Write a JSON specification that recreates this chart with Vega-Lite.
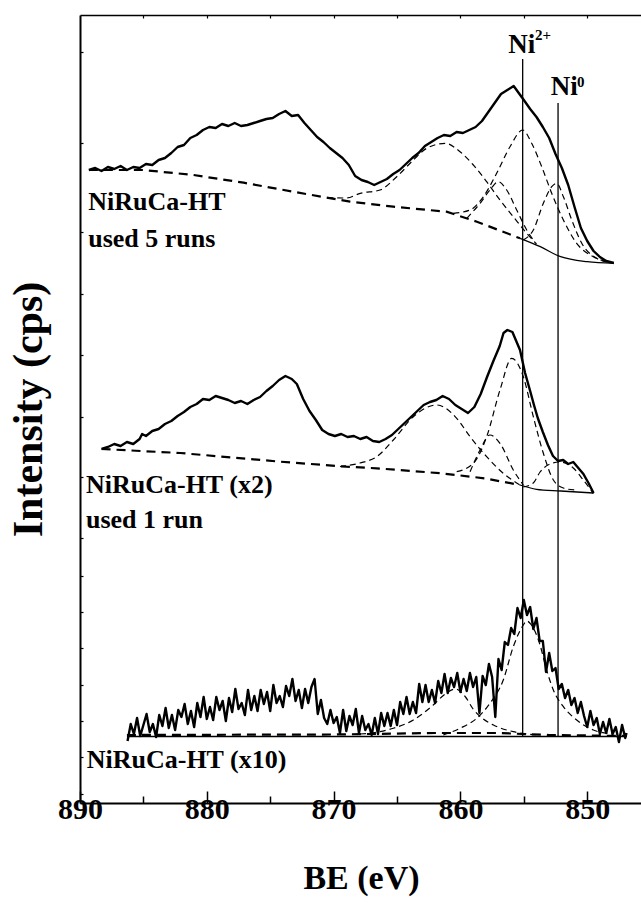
{
"$schema": "https://vega.github.io/schema/vega-lite/v6.json",
"width": 562, "height": 788,
"autosize": {"type": "none"},
"padding": {"left": 80, "top": 15, "right": 0, "bottom": 100},
"background": "white",
"config": {"view": {"stroke": null}, "font": "Liberation Serif"},
"resolve": {"axis": {"x": "independent"}},
"datasets": {
"raw": [
{"s":"a","be":889.3,"i":633},{"s":"a","be":888.8,"i":635},{"s":"a","be":888.3,"i":632},{"s":"a","be":887.8,"i":636},{"s":"a","be":887.3,"i":634},{"s":"a","be":886.8,"i":637},{"s":"a","be":886.3,"i":633},{"s":"a","be":885.8,"i":636},{"s":"a","be":885.3,"i":635},{"s":"a","be":884.8,"i":639},{"s":"a","be":884.3,"i":638},{"s":"a","be":883.8,"i":643},{"s":"a","be":883.3,"i":645},{"s":"a","be":882.8,"i":650},{"s":"a","be":882.3,"i":656},{"s":"a","be":881.8,"i":658},{"s":"a","be":881.3,"i":665},{"s":"a","be":880.8,"i":668},{"s":"a","be":880.3,"i":673},{"s":"a","be":879.8,"i":676},{"s":"a","be":879.3,"i":675},{"s":"a","be":878.8,"i":679},{"s":"a","be":878.3,"i":677},{"s":"a","be":877.8,"i":680},{"s":"a","be":877.3,"i":677},{"s":"a","be":876.8,"i":678},{"s":"a","be":876.3,"i":680},{"s":"a","be":875.8,"i":682},{"s":"a","be":875.3,"i":684},{"s":"a","be":874.8,"i":685},{"s":"a","be":874.3,"i":689},{"s":"a","be":873.8,"i":692},{"s":"a","be":873.3,"i":687},{"s":"a","be":872.8,"i":688},{"s":"a","be":872.3,"i":680},{"s":"a","be":871.8,"i":673},{"s":"a","be":871.3,"i":666},{"s":"a","be":870.8,"i":661},{"s":"a","be":870.3,"i":655},{"s":"a","be":869.8,"i":650},{"s":"a","be":869.3,"i":645},{"s":"a","be":868.8,"i":638},{"s":"a","be":868.3,"i":627},{"s":"a","be":867.8,"i":623},{"s":"a","be":867.3,"i":621},{"s":"a","be":866.8,"i":618},{"s":"a","be":866.3,"i":621},{"s":"a","be":865.8,"i":624},{"s":"a","be":865.3,"i":629},{"s":"a","be":864.8,"i":633},{"s":"a","be":864.3,"i":639},{"s":"a","be":863.8,"i":645},{"s":"a","be":863.3,"i":650},{"s":"a","be":862.8,"i":657},{"s":"a","be":862.3,"i":661},{"s":"a","be":861.8,"i":665},{"s":"a","be":861.3,"i":668},{"s":"a","be":860.8,"i":667},{"s":"a","be":860.3,"i":671},{"s":"a","be":859.8,"i":670},{"s":"a","be":859.3,"i":673},{"s":"a","be":858.8,"i":676},{"s":"a","be":858.3,"i":682},{"s":"a","be":857.8,"i":691},{"s":"a","be":857.3,"i":700},{"s":"a","be":856.8,"i":709},{"s":"a","be":856.3,"i":713},{"s":"a","be":855.8,"i":717},{"s":"a","be":855.4,"i":710},{"s":"a","be":855.0,"i":703},{"s":"a","be":854.5,"i":694},{"s":"a","be":854.0,"i":686},{"s":"a","be":853.5,"i":676},{"s":"a","be":853.0,"i":665},{"s":"a","be":852.5,"i":649},{"s":"a","be":852.0,"i":635},{"s":"a","be":851.5,"i":618},{"s":"a","be":851.0,"i":596},{"s":"a","be":850.5,"i":575},{"s":"a","be":850.0,"i":562},{"s":"a","be":849.5,"i":552},{"s":"a","be":849.0,"i":546},{"s":"a","be":848.5,"i":542},{"s":"a","be":847.9,"i":540},
{"s":"b","be":888.3,"i":354},{"s":"b","be":887.8,"i":356},{"s":"b","be":887.3,"i":359},{"s":"b","be":886.8,"i":357},{"s":"b","be":886.3,"i":361},{"s":"b","be":885.8,"i":359},{"s":"b","be":885.3,"i":364},{"s":"b","be":885.1,"i":369},{"s":"b","be":884.8,"i":367},{"s":"b","be":884.3,"i":372},{"s":"b","be":883.8,"i":374},{"s":"b","be":883.3,"i":379},{"s":"b","be":882.8,"i":382},{"s":"b","be":882.3,"i":387},{"s":"b","be":881.8,"i":391},{"s":"b","be":881.3,"i":396},{"s":"b","be":880.8,"i":399},{"s":"b","be":880.3,"i":404},{"s":"b","be":879.8,"i":403},{"s":"b","be":879.3,"i":407},{"s":"b","be":878.8,"i":405},{"s":"b","be":878.3,"i":403},{"s":"b","be":877.8,"i":400},{"s":"b","be":877.3,"i":402},{"s":"b","be":876.8,"i":399},{"s":"b","be":876.3,"i":403},{"s":"b","be":875.8,"i":406},{"s":"b","be":875.3,"i":412},{"s":"b","be":874.8,"i":417},{"s":"b","be":874.3,"i":423},{"s":"b","be":873.8,"i":427},{"s":"b","be":873.3,"i":424},{"s":"b","be":872.9,"i":419},{"s":"b","be":872.4,"i":404},{"s":"b","be":871.9,"i":392},{"s":"b","be":871.4,"i":383},{"s":"b","be":870.9,"i":373},{"s":"b","be":870.4,"i":369},{"s":"b","be":869.9,"i":367},{"s":"b","be":869.4,"i":369},{"s":"b","be":868.9,"i":366},{"s":"b","be":868.4,"i":367},{"s":"b","be":867.9,"i":364},{"s":"b","be":867.4,"i":366},{"s":"b","be":866.9,"i":362},{"s":"b","be":866.4,"i":361},{"s":"b","be":865.9,"i":364},{"s":"b","be":865.4,"i":368},{"s":"b","be":864.9,"i":374},{"s":"b","be":864.4,"i":380},{"s":"b","be":863.9,"i":386},{"s":"b","be":863.4,"i":392},{"s":"b","be":862.9,"i":398},{"s":"b","be":862.4,"i":401},{"s":"b","be":861.9,"i":403},{"s":"b","be":861.4,"i":407},{"s":"b","be":860.9,"i":404},{"s":"b","be":860.4,"i":398},{"s":"b","be":859.9,"i":394},{"s":"b","be":859.4,"i":390},{"s":"b","be":858.9,"i":396},{"s":"b","be":858.4,"i":409},{"s":"b","be":857.9,"i":426},{"s":"b","be":857.4,"i":442},{"s":"b","be":856.9,"i":457},{"s":"b","be":856.6,"i":470},{"s":"b","be":856.3,"i":473},{"s":"b","be":855.9,"i":471},{"s":"b","be":855.6,"i":462},{"s":"b","be":855.3,"i":453},{"s":"b","be":854.9,"i":430},{"s":"b","be":854.5,"i":412},{"s":"b","be":854.2,"i":398},{"s":"b","be":853.9,"i":385},{"s":"b","be":853.5,"i":371},{"s":"b","be":853.1,"i":358},{"s":"b","be":852.7,"i":347},{"s":"b","be":852.3,"i":342},{"s":"b","be":851.9,"i":343},{"s":"b","be":851.5,"i":339},{"s":"b","be":851.1,"i":341},{"s":"b","be":850.7,"i":335},{"s":"b","be":850.3,"i":329},{"s":"b","be":849.9,"i":320},{"s":"b","be":849.5,"i":310},
{"s":"c","be":886.25,"i":62},{"s":"c","be":886.0,"i":79},{"s":"c","be":885.75,"i":69},{"s":"c","be":885.5,"i":85},{"s":"c","be":885.25,"i":67},{"s":"c","be":885.0,"i":78},{"s":"c","be":884.75,"i":89},{"s":"c","be":884.5,"i":71},{"s":"c","be":884.25,"i":79},{"s":"c","be":884.0,"i":66},{"s":"c","be":883.75,"i":88},{"s":"c","be":883.5,"i":77},{"s":"c","be":883.25,"i":95},{"s":"c","be":883.0,"i":75},{"s":"c","be":882.75,"i":88},{"s":"c","be":882.5,"i":73},{"s":"c","be":882.25,"i":93},{"s":"c","be":882.0,"i":86},{"s":"c","be":881.75,"i":99},{"s":"c","be":881.5,"i":79},{"s":"c","be":881.25,"i":92},{"s":"c","be":881.0,"i":76},{"s":"c","be":880.75,"i":100},{"s":"c","be":880.5,"i":86},{"s":"c","be":880.25,"i":106},{"s":"c","be":880.0,"i":84},{"s":"c","be":879.75,"i":96},{"s":"c","be":879.5,"i":83},{"s":"c","be":879.25,"i":106},{"s":"c","be":879.0,"i":93},{"s":"c","be":878.75,"i":102},{"s":"c","be":878.5,"i":82},{"s":"c","be":878.25,"i":105},{"s":"c","be":878.0,"i":91},{"s":"c","be":877.75,"i":114},{"s":"c","be":877.5,"i":94},{"s":"c","be":877.25,"i":100},{"s":"c","be":877.0,"i":88},{"s":"c","be":876.75,"i":113},{"s":"c","be":876.5,"i":93},{"s":"c","be":876.25,"i":107},{"s":"c","be":876.0,"i":92},{"s":"c","be":875.75,"i":113},{"s":"c","be":875.5,"i":99},{"s":"c","be":875.25,"i":111},{"s":"c","be":875.0,"i":92},{"s":"c","be":874.75,"i":118},{"s":"c","be":874.5,"i":100},{"s":"c","be":874.25,"i":107},{"s":"c","be":874.0,"i":96},{"s":"c","be":873.75,"i":117},{"s":"c","be":873.5,"i":107},{"s":"c","be":873.25,"i":124},{"s":"c","be":873.0,"i":102},{"s":"c","be":872.75,"i":113},{"s":"c","be":872.5,"i":95},{"s":"c","be":872.25,"i":114},{"s":"c","be":872.0,"i":100},{"s":"c","be":871.75,"i":116},{"s":"c","be":871.5,"i":124},{"s":"c","be":871.25,"i":89},{"s":"c","be":871.0,"i":103},{"s":"c","be":870.75,"i":85},{"s":"c","be":870.5,"i":79},{"s":"c","be":870.25,"i":93},{"s":"c","be":870.0,"i":80},{"s":"c","be":869.75,"i":86},{"s":"c","be":869.5,"i":70},{"s":"c","be":869.25,"i":93},{"s":"c","be":869.0,"i":72},{"s":"c","be":868.75,"i":87},{"s":"c","be":868.5,"i":78},{"s":"c","be":868.25,"i":94},{"s":"c","be":868.0,"i":70},{"s":"c","be":867.75,"i":87},{"s":"c","be":867.5,"i":73},{"s":"c","be":867.25,"i":79},{"s":"c","be":867.0,"i":68},{"s":"c","be":866.75,"i":85},{"s":"c","be":866.5,"i":69},{"s":"c","be":866.25,"i":90},{"s":"c","be":866.0,"i":77},{"s":"c","be":865.75,"i":90},{"s":"c","be":865.5,"i":77},{"s":"c","be":865.25,"i":93},{"s":"c","be":865.0,"i":78},{"s":"c","be":864.75,"i":101},{"s":"c","be":864.5,"i":89},{"s":"c","be":864.25,"i":106},{"s":"c","be":864.0,"i":89},{"s":"c","be":863.75,"i":101},{"s":"c","be":863.5,"i":90},{"s":"c","be":863.25,"i":119},{"s":"c","be":863.0,"i":101},{"s":"c","be":862.75,"i":118},{"s":"c","be":862.5,"i":101},{"s":"c","be":862.25,"i":113},{"s":"c","be":862.0,"i":100},{"s":"c","be":861.75,"i":122},{"s":"c","be":861.5,"i":110},{"s":"c","be":861.25,"i":129},{"s":"c","be":861.0,"i":110},{"s":"c","be":860.75,"i":125},{"s":"c","be":860.5,"i":116},{"s":"c","be":860.25,"i":130},{"s":"c","be":860.0,"i":111},{"s":"c","be":859.75,"i":124},{"s":"c","be":859.5,"i":112},{"s":"c","be":859.25,"i":130},{"s":"c","be":859.0,"i":116},{"s":"c","be":858.75,"i":126},{"s":"c","be":858.5,"i":90},{"s":"c","be":858.25,"i":127},{"s":"c","be":858.0,"i":118},{"s":"c","be":857.75,"i":139},{"s":"c","be":857.5,"i":126},{"s":"c","be":857.25,"i":86},{"s":"c","be":857.0,"i":144},{"s":"c","be":856.75,"i":133},{"s":"c","be":856.5,"i":161},{"s":"c","be":856.25,"i":158},{"s":"c","be":856.0,"i":175},{"s":"c","be":855.75,"i":169},{"s":"c","be":855.5,"i":195},{"s":"c","be":855.25,"i":185},{"s":"c","be":855.0,"i":203},{"s":"c","be":854.75,"i":188},{"s":"c","be":854.5,"i":196},{"s":"c","be":854.25,"i":174},{"s":"c","be":854.0,"i":185},{"s":"c","be":853.75,"i":162},{"s":"c","be":853.5,"i":162},{"s":"c","be":853.25,"i":131},{"s":"c","be":853.0,"i":150},{"s":"c","be":852.75,"i":132},{"s":"c","be":852.5,"i":135},{"s":"c","be":852.25,"i":114},{"s":"c","be":852.0,"i":119},{"s":"c","be":851.75,"i":105},{"s":"c","be":851.5,"i":113},{"s":"c","be":851.25,"i":98},{"s":"c","be":851.0,"i":105},{"s":"c","be":850.75,"i":90},{"s":"c","be":850.5,"i":101},{"s":"c","be":850.25,"i":87},{"s":"c","be":850.0,"i":76},{"s":"c","be":849.75,"i":92},{"s":"c","be":849.5,"i":78},{"s":"c","be":849.25,"i":85},{"s":"c","be":849.0,"i":69},{"s":"c","be":848.75,"i":81},{"s":"c","be":848.5,"i":70},{"s":"c","be":848.25,"i":84},{"s":"c","be":848.0,"i":69},{"s":"c","be":847.75,"i":76},{"s":"c","be":847.5,"i":61},{"s":"c","be":847.25,"i":78},{"s":"c","be":847.0,"i":65},{"s":"c","be":846.9,"i":70}
],
"bg": [
{"s":"a","be":889.3,"i":633},{"s":"a","be":885.0,"i":633},{"s":"a","be":881.05,"i":628},{"s":"a","be":877.1,"i":620.3},{"s":"a","be":873.2,"i":611.3},{"s":"a","be":868.7,"i":601.3},{"s":"a","be":865.3,"i":596.3},{"s":"a","be":861.1,"i":591.3},{"s":"a","be":858.7,"i":581.3},{"s":"a","be":855.3,"i":564.7},
{"s":"b","be":888.3,"i":354},{"s":"b","be":882.1,"i":350},{"s":"b","be":874.2,"i":341.3},{"s":"b","be":869.0,"i":336.3},{"s":"b","be":866.6,"i":334.7},{"s":"b","be":861.5,"i":329.7},{"s":"b","be":858.1,"i":324.7},{"s":"b","be":855.3,"i":318},
{"s":"c","be":886.3,"i":68},{"s":"c","be":870.0,"i":68.5},{"s":"c","be":862.0,"i":70},{"s":"c","be":857.0,"i":70},{"s":"c","be":853.0,"i":68},{"s":"c","be":846.9,"i":67}
],
"base": [
{"s":"a","be":855.3,"i":564.7},{"s":"a","be":853.7,"i":556.3},{"s":"a","be":852.1,"i":546.3},{"s":"a","be":850.0,"i":541.3},{"s":"a","be":847.9,"i":539.7},
{"s":"b","be":855.3,"i":318},{"s":"b","be":854.0,"i":313.7},{"s":"b","be":852.1,"i":312},{"s":"b","be":849.5,"i":310},
{"s":"c","be":886.3,"i":66.5},{"s":"c","be":846.9,"i":66.5}
],
"comp": [
{"c":"t1","be":870.5,"i":605.3},{"c":"t1","be":869.0,"i":605},{"c":"t1","be":867.9,"i":609.7},{"c":"t1","be":866.34,"i":613},{"c":"t1","be":865.02,"i":626.3},{"c":"t1","be":863.71,"i":643},{"c":"t1","be":862.66,"i":654.7},{"c":"t1","be":861.21,"i":659.7},{"c":"t1","be":860.03,"i":651.3},{"c":"t1","be":858.98,"i":638},{"c":"t1","be":857.93,"i":621.3},{"c":"t1","be":856.88,"i":603},{"c":"t1","be":855.83,"i":586.3},{"c":"t1","be":854.77,"i":569.7},{"c":"t1","be":854.0,"i":559},
{"c":"t2","be":860.56,"i":589.7},{"c":"t2","be":859.24,"i":593},{"c":"t2","be":858.19,"i":606.3},{"c":"t2","be":857.14,"i":629.7},{"c":"t2","be":856.09,"i":656.3},{"c":"t2","be":855.09,"i":673},{"c":"t2","be":854.38,"i":659.7},{"c":"t2","be":853.59,"i":636.3},{"c":"t2","be":852.8,"i":609.7},{"c":"t2","be":851.88,"i":583},{"c":"t2","be":850.83,"i":559.7},{"c":"t2","be":849.52,"i":546.3},{"c":"t2","be":848.46,"i":541.3},
{"c":"t3","be":859.5,"i":584.7},{"c":"t3","be":858.45,"i":599.7},{"c":"t3","be":857.67,"i":613},{"c":"t3","be":857.01,"i":621.3},{"c":"t3","be":856.35,"i":613},{"c":"t3","be":855.56,"i":593},{"c":"t3","be":854.77,"i":573},{"c":"t3","be":854.25,"i":563},
{"c":"t4","be":855.04,"i":563},{"c":"t4","be":854.25,"i":573},{"c":"t4","be":853.46,"i":599.7},{"c":"t4","be":852.8,"i":616.3},{"c":"t4","be":852.41,"i":619.7},{"c":"t4","be":851.88,"i":606.3},{"c":"t4","be":851.22,"i":583},{"c":"t4","be":850.43,"i":559.7},{"c":"t4","be":849.25,"i":544.7},{"c":"t4","be":848.2,"i":540.3},
{"c":"m1","be":869.5,"i":336.5},{"c":"m1","be":867.92,"i":340},{"c":"m1","be":866.6,"i":346.3},{"c":"m1","be":865.29,"i":363},{"c":"m1","be":863.71,"i":386.3},{"c":"m1","be":861.87,"i":398},{"c":"m1","be":860.29,"i":384.7},{"c":"m1","be":859.24,"i":366.3},{"c":"m1","be":857.93,"i":346.3},{"c":"m1","be":856.62,"i":329.7},{"c":"m1","be":855.3,"i":318},
{"c":"m2","be":860.29,"i":331.3},{"c":"m2","be":858.98,"i":339.7},{"c":"m2","be":857.93,"i":366.3},{"c":"m2","be":856.88,"i":413},{"c":"m2","be":855.95,"i":444.7},{"c":"m2","be":855.04,"i":426.3},{"c":"m2","be":854.25,"i":386.3},{"c":"m2","be":853.46,"i":349.7},{"c":"m2","be":852.67,"i":323},{"c":"m2","be":851.88,"i":315},{"c":"m2","be":850.96,"i":313},
{"c":"m3","be":859.24,"i":331.3},{"c":"m3","be":858.45,"i":353},{"c":"m3","be":857.67,"i":368},{"c":"m3","be":856.88,"i":359.7},{"c":"m3","be":855.83,"i":333},{"c":"m3","be":855.04,"i":318},
{"c":"m4","be":855.04,"i":316},{"c":"m4","be":854.25,"i":320},{"c":"m4","be":853.72,"i":331},{"c":"m4","be":852.93,"i":339},{"c":"m4","be":852.15,"i":341},{"c":"m4","be":851.1,"i":335},{"c":"m4","be":850.31,"i":323},{"c":"m4","be":849.52,"i":309.7},
{"c":"b1","be":867.92,"i":69},{"c":"b1","be":866.34,"i":71.3},{"c":"b1","be":865.29,"i":74.7},{"c":"b1","be":863.71,"i":83},{"c":"b1","be":862.14,"i":98},{"c":"b1","be":861.3,"i":108},{"c":"b1","be":860.4,"i":114},{"c":"b1","be":859.6,"i":106},{"c":"b1","be":859.0,"i":94},{"c":"b1","be":858.3,"i":85},{"c":"b1","be":857.4,"i":78},{"c":"b1","be":855.83,"i":71.3},{"c":"b1","be":853.72,"i":68},
{"c":"b2","be":861.35,"i":68},{"c":"b2","be":860.03,"i":74.7},{"c":"b2","be":858.71,"i":84.7},{"c":"b2","be":857.67,"i":99.7},{"c":"b2","be":856.62,"i":123},{"c":"b2","be":855.83,"i":156.3},{"c":"b2","be":855.04,"i":178},{"c":"b2","be":854.77,"i":182},{"c":"b2","be":854.4,"i":178},{"c":"b2","be":853.72,"i":158},{"c":"b2","be":853.2,"i":133},{"c":"b2","be":852.67,"i":113},{"c":"b2","be":851.88,"i":96.3},{"c":"b2","be":850.83,"i":83},{"c":"b2","be":849.52,"i":73},{"c":"b2","be":847.94,"i":69}
],
"lines": [
{"name":"Ni2+","be":855.09,"i":744,"i2":67},
{"name":"Ni0","be":852.3,"i":700,"i2":67}
],
"labels": [
{"be":889.35,"i":593,"t":"NiRuCa-HT"},
{"be":889.35,"i":556,"t":"used 5 runs"},
{"be":889.53,"i":310,"t":"NiRuCa-HT (x2)"},
{"be":889.53,"i":275,"t":"used 1 run"},
{"be":889.47,"i":35,"t":"NiRuCa-HT (x10)"}
],
"ni": [
{"be":856.22,"i":750,"t":"Ni"},
{"be":852.88,"i":708,"t":"Ni"}
],
"sup": [
{"be":854.12,"i":763,"t":"2+"},
{"be":850.8,"i":716,"t":"0"}
]
},
"layer": [
{
"data": {"name": "raw"},
"mark": {"type": "line", "color": "black", "strokeWidth": 2.4, "strokeJoin": "round"},
"encoding": {
"x": {"field": "be", "type": "quantitative",
 "scale": {"domain": [845.68, 890], "reverse": true, "nice": false, "zero": false},
 "axis": {"orient": "bottom", "values": [850, 855, 860, 865, 870, 875, 880, 885, 890],
  "labelExpr": "datum.value % 10 === 0 ? datum.label : ''",
  "tickSize": {"condition": {"test": "datum.value % 10 === 0", "value": -12}, "value": -7},
  "tickColor": "black", "tickWidth": 1.5, "domainColor": "black", "domainWidth": 2, "grid": false,
  "labelFont": "Liberation Serif", "labelFontWeight": "bold", "labelFontSize": 30, "labelColor": "black",
  "labelPadding": 3, "labelFlush": false, "labelOverlap": false,
  "title": "BE (eV)", "titleFont": "Liberation Serif", "titleFontSize": 34, "titleFontWeight": "bold", "titleColor": "black", "titlePadding": 32}},
"y": {"field": "i", "type": "quantitative",
 "scale": {"domain": [0, 788], "nice": false, "zero": false},
 "axis": {"orient": "left", "values": [774, 751, 729, 706, 683, 660, 638, 615, 593, 571, 553, 539, 524, 509, 493, 478, 463, 448, 432, 416, 401, 386, 371, 356, 341, 326, 310, 295, 280, 265, 254, 245, 236, 227, 218, 209, 200, 191, 182, 173, 164, 155, 146, 136, 127, 118, 109, 100, 91, 82, 73, 64, 55, 46, 36, 27, 18, 9],
  "labels": false, "tickSize": -3, "tickWidth": 1.2, "tickColor": "black", "domainColor": "black", "domainWidth": 2, "grid": false,
  "title": "Intensity (cps)", "titleFont": "Liberation Serif", "titleFontSize": 42, "titleFontWeight": "bold", "titleColor": "black", "titlePadding": 29}},
"detail": {"field": "s"}
}
},
{
"data": {"name": "bg"},
"mark": {"type": "line", "color": "black", "strokeWidth": 2.2, "strokeDash": [9, 6]},
"encoding": {
"x": {"field": "be", "type": "quantitative", "scale": {"domain": [845.68, 890], "reverse": true, "nice": false, "zero": false}, "axis": null},
"y": {"field": "i", "type": "quantitative", "scale": {"domain": [0, 788], "nice": false, "zero": false}},
"detail": {"field": "s"}
}
},
{
"data": {"name": "base"},
"mark": {"type": "line", "color": "black", "strokeWidth": 1.3, "interpolate": "monotone"},
"encoding": {
"x": {"field": "be", "type": "quantitative", "scale": {"domain": [845.68, 890], "reverse": true, "nice": false, "zero": false}, "axis": null},
"y": {"field": "i", "type": "quantitative", "scale": {"domain": [0, 788], "nice": false, "zero": false}},
"detail": {"field": "s"}
}
},
{
"data": {"name": "comp"},
"mark": {"type": "line", "color": "black", "strokeWidth": 1.2, "strokeDash": [6, 4], "interpolate": "monotone"},
"encoding": {
"x": {"field": "be", "type": "quantitative", "scale": {"domain": [845.68, 890], "reverse": true, "nice": false, "zero": false}, "axis": null},
"y": {"field": "i", "type": "quantitative", "scale": {"domain": [0, 788], "nice": false, "zero": false}},
"detail": {"field": "c"}
}
},
{
"data": {"name": "lines"},
"mark": {"type": "rule", "color": "black", "strokeWidth": 1.3},
"encoding": {
"x": {"field": "be", "type": "quantitative", "scale": {"domain": [845.68, 890], "reverse": true, "nice": false, "zero": false},
 "axis": {"orient": "top", "values": [850, 855, 860, 865, 870, 875, 880, 885], "labels": false, "tickSize": -3, "tickWidth": 1.2, "tickColor": "black", "domainColor": "black", "domainWidth": 1.5, "grid": false, "title": null}},
"y": {"field": "i", "type": "quantitative", "scale": {"domain": [0, 788], "nice": false, "zero": false}},
"y2": {"field": "i2"}
}
},
{
"data": {"name": "labels"},
"mark": {"type": "text", "align": "left", "baseline": "alphabetic", "font": "Liberation Serif", "fontWeight": "bold", "fontSize": 26, "color": "black"},
"encoding": {
"x": {"field": "be", "type": "quantitative", "scale": {"domain": [845.68, 890], "reverse": true, "nice": false, "zero": false}, "axis": null},
"y": {"field": "i", "type": "quantitative", "scale": {"domain": [0, 788], "nice": false, "zero": false}},
"text": {"field": "t"}
}
},
{
"data": {"name": "ni"},
"mark": {"type": "text", "align": "left", "baseline": "alphabetic", "font": "Liberation Serif", "fontWeight": "bold", "fontSize": 27, "color": "black"},
"encoding": {
"x": {"field": "be", "type": "quantitative", "scale": {"domain": [845.68, 890], "reverse": true, "nice": false, "zero": false}, "axis": null},
"y": {"field": "i", "type": "quantitative", "scale": {"domain": [0, 788], "nice": false, "zero": false}},
"text": {"field": "t"}
}
},
{
"data": {"name": "sup"},
"mark": {"type": "text", "align": "left", "baseline": "alphabetic", "font": "Liberation Serif", "fontWeight": "bold", "fontSize": 15, "color": "black"},
"encoding": {
"x": {"field": "be", "type": "quantitative", "scale": {"domain": [845.68, 890], "reverse": true, "nice": false, "zero": false}, "axis": null},
"y": {"field": "i", "type": "quantitative", "scale": {"domain": [0, 788], "nice": false, "zero": false}},
"text": {"field": "t"}
}
}
]
}
